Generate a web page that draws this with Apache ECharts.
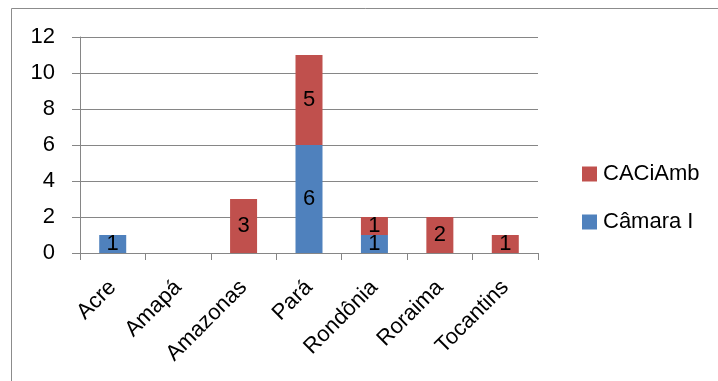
<!DOCTYPE html>
<html><head><meta charset="utf-8">
<script src="https://cdn.jsdelivr.net/npm/echarts@6/dist/echarts.min.js"></script>
<style>html,body{margin:0;padding:0;background:#fff}#c{width:718px;height:381px}</style>
</head><body><div id="c"></div>
<script>
var categories = ['Acre','Amapá','Amazonas','Pará','Rondônia','Roraima','Tocantins'];
var camaraI = [1, null, null, 6, 1, null, null];
var caciamb = [null, null, 3, 5, 1, 2, 1];
var yTicks = [0, 2, 4, 6, 8, 10, 12];

var FONT = 'Liberation Sans';
var chart = echarts.init(document.getElementById('c'), null, {renderer:'canvas'});
chart.setOption({
  animation:false,
  backgroundColor:'#fff',
  textStyle:{fontFamily:FONT},
  graphic:[{type:'rect', shape:{x:11.5,y:8.5,width:720,height:390}, style:{fill:'none', stroke:'#8c8c8c', lineWidth:1}, silent:true}],
  grid:{left:80, right:180, top:37, bottom:128, containLabel:false},
  legend:{
    orient:'vertical', left:582, top:163, padding:0, itemWidth:15, itemHeight:15, itemGap:26,
    icon:'rect',
    data:['CACiAmb','Câmara I'],
    textStyle:{fontFamily:FONT, fontSize:22, color:'#000', padding:[0,0,0,1]}
  },
  xAxis:{
    type:'category', data:categories,
    axisLine:{lineStyle:{color:'#868686', width:1}},
    axisTick:{show:true, length:7, lineStyle:{color:'#868686'}},
    axisLabel:{rotate:45, fontFamily:FONT, fontSize:22, color:'#000', margin:31, interval:0}
  },
  yAxis:{
    type:'value', min:yTicks[0], max:yTicks[yTicks.length-1], interval:2,
    axisLine:{show:true, lineStyle:{color:'#868686', width:1}},
    axisTick:{show:true, length:8, lineStyle:{color:'#868686'}},
    splitLine:{lineStyle:{color:'#868686', width:1}},
    axisLabel:{fontFamily:FONT, fontSize:22, color:'#000', margin:25}
  },
  series:[
    {name:'Câmara I', type:'bar', stack:'t', data:camaraI, barWidth:27,
     itemStyle:{color:'#4F81BD'},
     label:{show:true, position:'inside', color:'#000', fontFamily:FONT, fontSize:22}},
    {name:'CACiAmb', type:'bar', stack:'t', data:caciamb, barWidth:27,
     itemStyle:{color:'#C0504D'},
     label:{show:true, position:'inside', color:'#000', fontFamily:FONT, fontSize:22}}
  ]
});
</script></body></html>
